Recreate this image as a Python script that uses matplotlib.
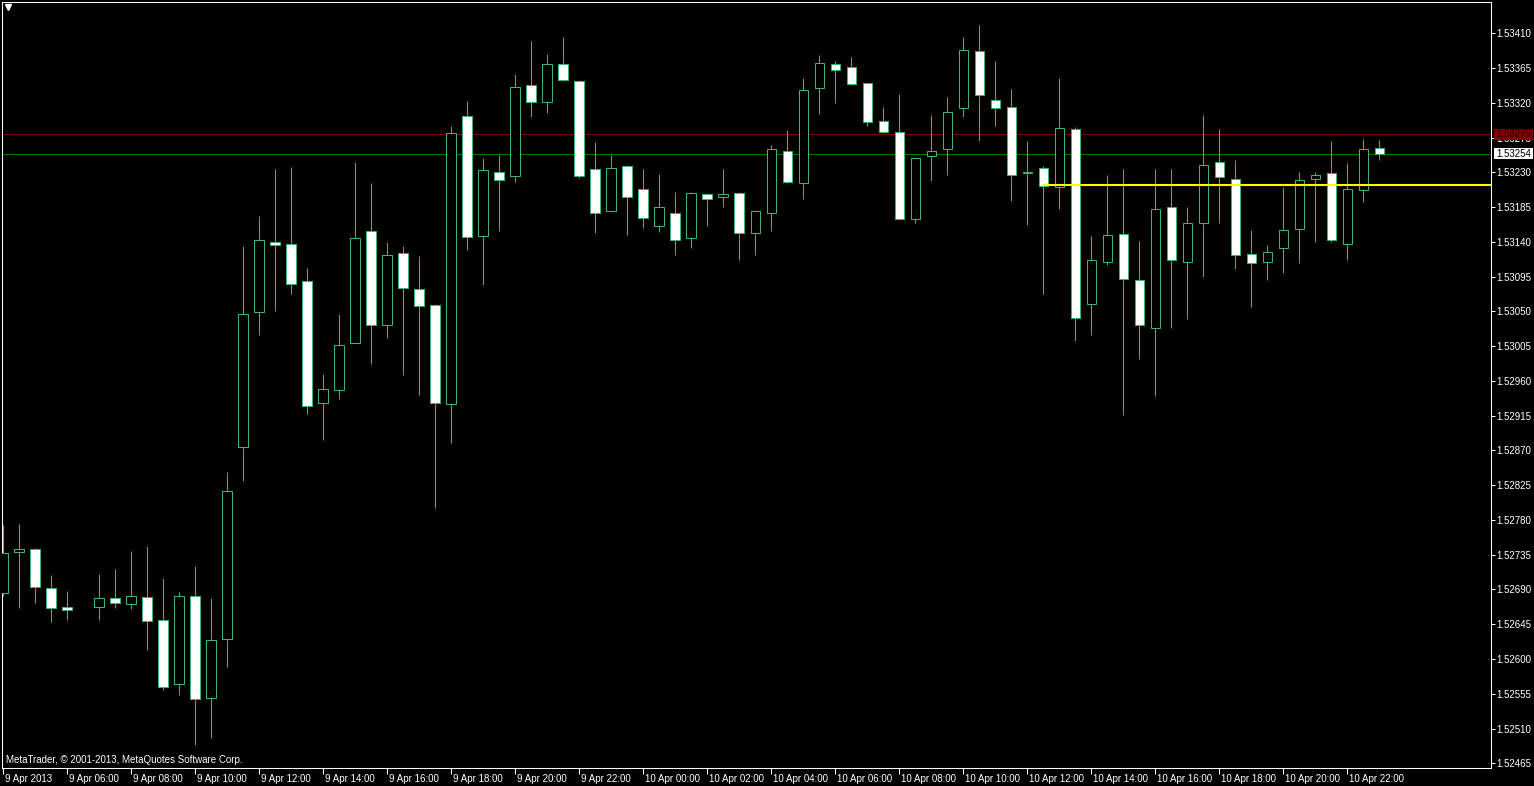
import numpy as np
import matplotlib
matplotlib.use("Agg")
import matplotlib.pyplot as plt
from matplotlib.patches import Rectangle
from matplotlib.transforms import ScaledTranslation

plt.rcParams['font.family'] = ['Liberation Sans', 'DejaVu Sans']

nan = float('nan')
# 30-minute candles, 9 Apr 04:00 .. 10 Apr 23:00 (index 5 missing)
opens = [1.52686, 1.52738, 1.52743, 1.52692, 1.52667, nan, 1.52667, 1.52679, 1.52671, 1.52680,
         1.52650, 1.52567, 1.52681, 1.52549, 1.52626, 1.52875, 1.53049, 1.53140, 1.53137, 1.53089,
         1.52932, 1.52948, 1.53009, 1.53154, 1.53032, 1.53125, 1.53079, 1.53058, 1.52930, 1.53303,
         1.53148, 1.53231, 1.53225, 1.53343, 1.53321, 1.53370, 1.53348, 1.53234, 1.53180, 1.53238,
         1.53208, 1.53161, 1.53177, 1.53145, 1.53202, 1.53198, 1.53203, 1.53151, 1.53177, 1.53258,
         1.53216, 1.53339, 1.53370, 1.53367, 1.53345, 1.53296, 1.53282, 1.53170, 1.53251, 1.53260,
         1.53313, 1.53387, 1.53323, 1.53314, 1.53229, 1.53235, 1.53211, 1.53286, 1.53059, 1.53114,
         1.53150, 1.53090, 1.53028, 1.53185, 1.53114, 1.53164, 1.53243, 1.53222, 1.53124, 1.53114,
         1.53132, 1.53156, 1.53221, 1.53229, 1.53137, 1.53207, 1.53262]
highs = [1.52773, 1.52775, 1.52744, 1.52709, 1.52688, nan, 1.52710, 1.52717, 1.52740, 1.52746,
         1.52705, 1.52687, 1.52720, 1.52679, 1.52842, 1.53134, 1.53174, 1.53234, 1.53237, 1.53106,
         1.52969, 1.53047, 1.53243, 1.53216, 1.53140, 1.53134, 1.53122, 1.53059, 1.53290, 1.53322,
         1.53249, 1.53252, 1.53357, 1.53400, 1.53383, 1.53405, 1.53350, 1.53269, 1.53252, 1.53239,
         1.53234, 1.53228, 1.53205, 1.53204, 1.53203, 1.53234, 1.53204, 1.53181, 1.53265, 1.53285,
         1.53352, 1.53382, 1.53374, 1.53379, 1.53346, 1.53315, 1.53331, 1.53249, 1.53304, 1.53327,
         1.53405, 1.53421, 1.53374, 1.53338, 1.53271, 1.53238, 1.53352, 1.53289, 1.53147, 1.53227,
         1.53234, 1.53141, 1.53234, 1.53234, 1.53185, 1.53304, 1.53286, 1.53246, 1.53155, 1.53136,
         1.53211, 1.53230, 1.53230, 1.53271, 1.53242, 1.53273, 1.53272]
lows = [1.52681, 1.52666, 1.52673, 1.52648, 1.52650, nan, 1.52650, 1.52666, 1.52665, 1.52612,
        1.52560, 1.52553, 1.52489, 1.52498, 1.52589, 1.52831, 1.53020, 1.53050, 1.53073, 1.52917,
        1.52884, 1.52937, 1.53009, 1.52982, 1.53016, 1.52967, 1.52942, 1.52796, 1.52879, 1.53129,
        1.53084, 1.53154, 1.53217, 1.53301, 1.53307, 1.53348, 1.53223, 1.53152, 1.53179, 1.53149,
        1.53158, 1.53153, 1.53123, 1.53132, 1.53161, 1.53185, 1.53117, 1.53123, 1.53154, 1.53216,
        1.53195, 1.53306, 1.53320, 1.53343, 1.53290, 1.53281, 1.53168, 1.53165, 1.53219, 1.53227,
        1.53301, 1.53271, 1.53290, 1.53193, 1.53162, 1.53073, 1.53183, 1.53012, 1.53020, 1.53110,
        1.52916, 1.52989, 1.52940, 1.53029, 1.53040, 1.53095, 1.53165, 1.53105, 1.53056, 1.53090,
        1.53100, 1.53113, 1.53140, 1.53140, 1.53116, 1.53192, 1.53246]
closes = [1.52737, 1.52742, 1.52693, 1.52666, 1.52664, nan, 1.52679, 1.52672, 1.52682, 1.52649,
          1.52564, 1.52682, 1.52548, 1.52624, 1.52818, 1.53046, 1.53142, 1.53136, 1.53085, 1.52928,
          1.52950, 1.53007, 1.53145, 1.53033, 1.53123, 1.53080, 1.53057, 1.52931, 1.53281, 1.53146,
          1.53233, 1.53220, 1.53341, 1.53321, 1.53370, 1.53349, 1.53225, 1.53178, 1.53235, 1.53198,
          1.53171, 1.53185, 1.53143, 1.53203, 1.53195, 1.53202, 1.53151, 1.53180, 1.53260, 1.53217,
          1.53337, 1.53371, 1.53362, 1.53344, 1.53295, 1.53282, 1.53169, 1.53248, 1.53258, 1.53308,
          1.53389, 1.53330, 1.53313, 1.53227, 1.53231, 1.53212, 1.53287, 1.53042, 1.53116, 1.53149,
          1.53092, 1.53033, 1.53183, 1.53116, 1.53165, 1.53239, 1.53224, 1.53123, 1.53112, 1.53127,
          1.53155, 1.53220, 1.53227, 1.53142, 1.53208, 1.53260, 1.53254]

time_labels = ["9 Apr 2013", "9 Apr 06:00", "9 Apr 08:00", "9 Apr 10:00", "9 Apr 12:00",
               "9 Apr 14:00", "9 Apr 16:00", "9 Apr 18:00", "9 Apr 20:00", "9 Apr 22:00",
               "10 Apr 00:00", "10 Apr 02:00", "10 Apr 04:00", "10 Apr 06:00", "10 Apr 08:00",
               "10 Apr 10:00", "10 Apr 12:00", "10 Apr 14:00", "10 Apr 16:00", "10 Apr 18:00",
               "10 Apr 20:00", "10 Apr 22:00"]
bars_per_label = 4

price_ticks = [1.53410, 1.53365, 1.53320, 1.53275, 1.53230, 1.53185, 1.53140, 1.53095,
               1.53050, 1.53005, 1.52960, 1.52915, 1.52870, 1.52825, 1.52780, 1.52735,
               1.52690, 1.52645, 1.52600, 1.52555, 1.52510, 1.52465]

ask_price = 1.53279
bid_price = 1.53254
level_price = 1.53213
level_start_bar = 65

# ---------------------------------------------------------------
W, H = 1534, 786
FS = 7
fig = plt.figure(figsize=(W / 100, H / 100), dpi=100, facecolor='black')
ax = fig.add_axes([2 / W, (H - 768) / H, (1491 - 2) / W, (768 - 2) / H])
ax.set_facecolor('black')

o = np.array(opens); h = np.array(highs); l = np.array(lows); c = np.array(closes)
x = np.arange(len(o))
ok = ~np.isnan(o)
green = '#3cb371'
lw = 0.75

ax.vlines(x[ok], l[ok], h[ok], color=green, lw=lw, zorder=2)
fills = np.where(c < o, 'white', 'black')
ax.bar(x[ok], np.abs(c - o)[ok], bottom=np.minimum(o, c)[ok], width=0.6,
       color=fills[ok], edgecolor=green, linewidth=lw, zorder=3)

ax.set_xlim(-0.08, 92.98)
ax.set_ylim(1.524589, 1.534505)

ax.axhline(ask_price, color='#800000', lw=lw, zorder=1)
ax.axhline(bid_price, color='#007800', lw=lw, zorder=1)
ax.hlines(level_price, level_start_bar, ax.get_xlim()[1], color='#ffff00', lw=1.5, zorder=4)

for s in ax.spines.values():
    s.set_color('white')
    s.set_linewidth(lw)

ax.set_xticks(np.arange(len(time_labels)) * bars_per_label)
ax.set_xticklabels(time_labels)
ax.tick_params(axis='x', colors='white', length=4, width=lw, pad=0.5, labelsize=FS)
off = ScaledTranslation(1.0 / 72, 0, fig.dpi_scale_trans)
for lbl in ax.get_xticklabels():
    lbl.set_horizontalalignment('left')
    lbl.set_transform(lbl.get_transform() + off)

ax.yaxis.tick_right()
ax.set_yticks(price_ticks)
ax.set_yticklabels([f"{p:.5f}" for p in price_ticks])
ax.tick_params(axis='y', colors='white', length=3, width=lw, pad=1, labelsize=FS)

# price boxes for ask / bid
def price_box(price, fc, tc):
    _, yp = ax.transData.transform((0, price))
    fig.add_artist(Rectangle((1494 / W, (yp - 5.5) / H), 39 / W, 11 / H,
                             facecolor=fc, edgecolor='none', zorder=5))
    fig.text(1496 / W, yp / H, f"{price:.5f}", color=tc, fontsize=FS,
             va='center', ha='left', zorder=6)

price_box(ask_price, '#800000', '#2a0000')
price_box(bid_price, 'white', 'black')

ax.text((6 - 2) / 1489, (768 - 760) / 766, "MetaTrader, \u00a9 2001-2013, MetaQuotes Software Corp.",
        transform=ax.transAxes, color='white', fontsize=FS, va='center', ha='left')
ax.plot([(8 - 2) / 1489], [(768 - 7) / 766], marker='v', color='white', markersize=4,
        transform=ax.transAxes, clip_on=False)

fig.savefig('out.png', dpi=100, facecolor='black')
